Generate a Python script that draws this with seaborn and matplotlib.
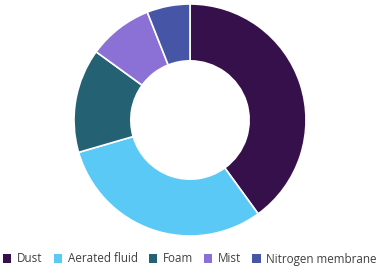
import matplotlib
matplotlib.use("Agg")
import matplotlib.pyplot as plt
import seaborn as sns
from matplotlib.patches import Patch

categories = ["Dust", "Aerated fluid", "Foam", "Mist", "Nitrogen membrane"]
values = [40, 30.5, 14.5, 9, 6]
colors = ["#36104a", "#5bc9f5", "#246173", "#8b71d6", "#4655a5"]

sns.set_theme(style="white")
plt.rcParams['font.family'] = ['Open Sans', 'DejaVu Sans']
palette = sns.color_palette(colors)

fig = plt.figure(figsize=(3.84, 2.72), dpi=100)
ax = fig.add_axes([(190 - 116) / 384, (272 - 236) / 272, 232 / 384, 232 / 272])
ax.pie(values, colors=palette, startangle=90, counterclock=False,
       wedgeprops=dict(width=0.49, edgecolor="white", linewidth=1.2))
ax.set_aspect("equal")
ax.set_xlim(-1, 1)
ax.set_ylim(-1, 1)
ax.axis("off")

handles = [Patch(facecolor=c, edgecolor="none") for c in palette]
fig.legend(handles, categories, loc="center", bbox_to_anchor=(0.495, (272 - 259) / 272),
           ncol=5, frameon=False, fontsize=8.4, handlelength=0.7, handleheight=0.7,
           handletextpad=0.5, columnspacing=0.95, labelcolor="#404040")

fig.savefig("out.png", dpi=100)
